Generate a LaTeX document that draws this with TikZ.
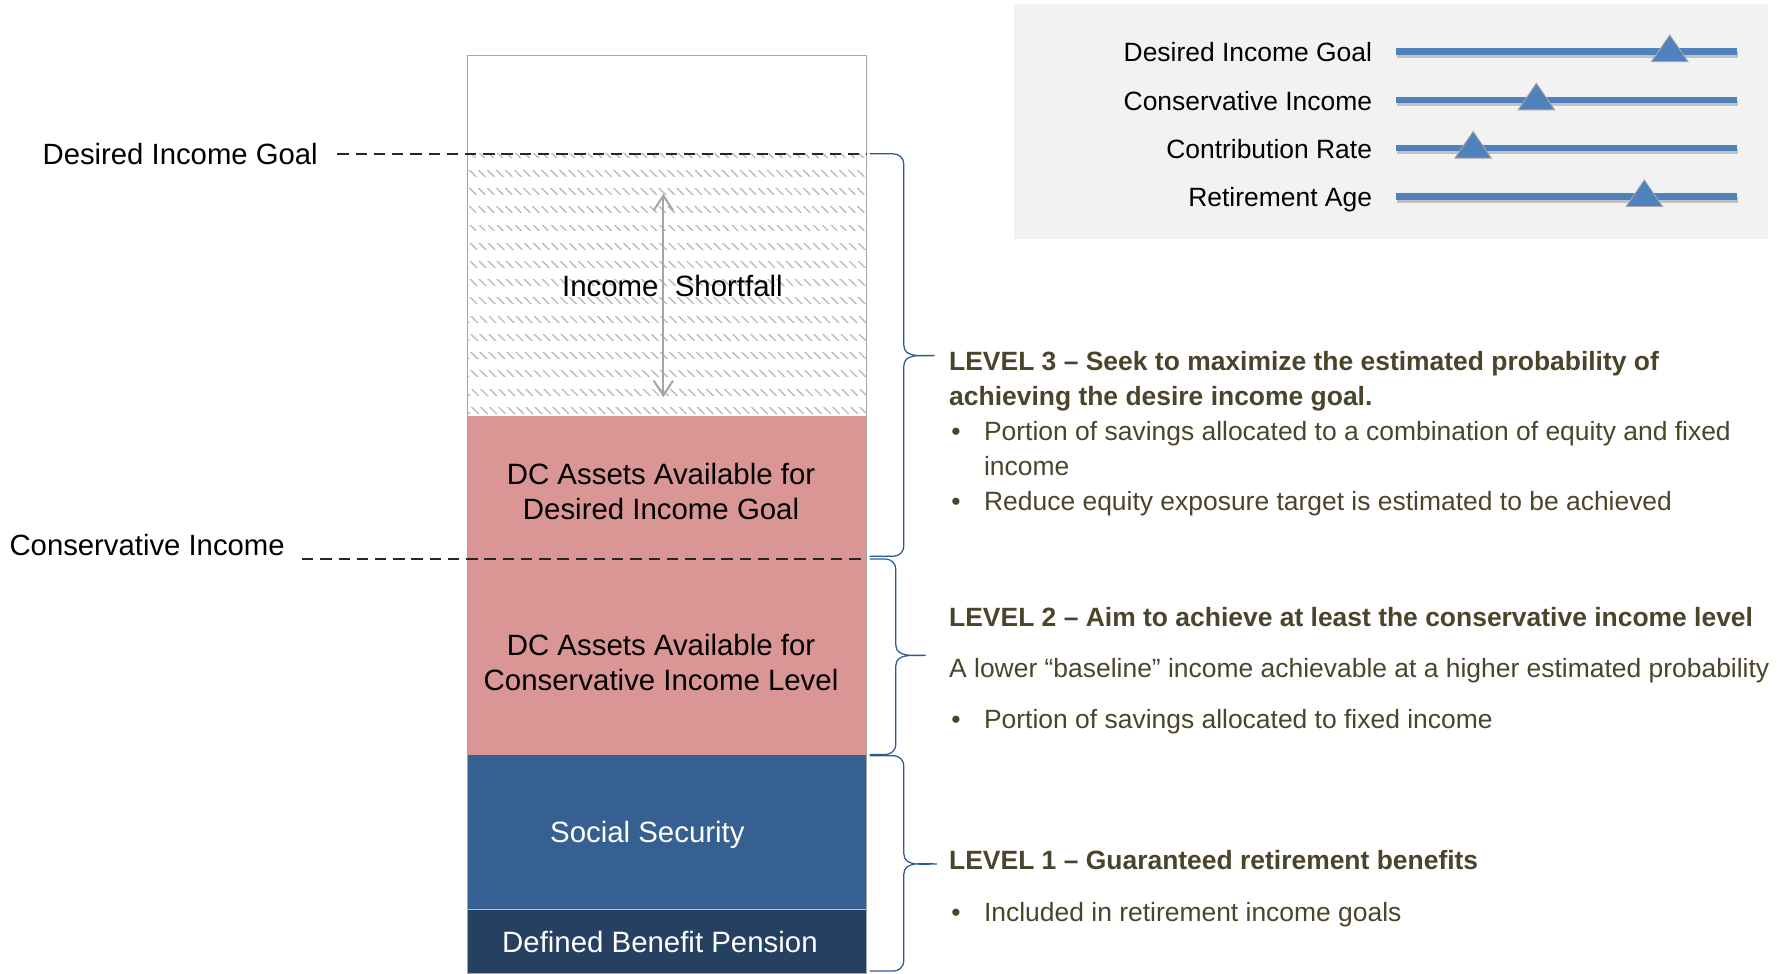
\documentclass[tikz,border=0pt]{standalone}
\usepackage{fontspec}
\setmainfont{Liberation Sans}
\usetikzlibrary{arrows.meta,patterns.meta}

\definecolor{dcpink}{HTML}{D99694}
\definecolor{ssblue}{HTML}{376092}
\definecolor{dbnavy}{HTML}{254061}
\definecolor{sliderblue}{HTML}{4F81BD}
\definecolor{panelgray}{HTML}{F2F2F2}
\definecolor{leveltext}{HTML}{4A452A}
\definecolor{bracecol}{HTML}{2E5A94}

\begin{document}
\begin{tikzpicture}[x=1pt, y=-1pt, inner sep=0pt,
    boxtext/.style={font=\fontsize{25.8}{30.5}\selectfont},
    sidelabel/.style={font=\fontsize{25.7}{30}\selectfont, anchor=base east},
    slidername/.style={font=\fontsize{23.2}{28}\selectfont, anchor=base east},
    levelnote/.style={font=\fontsize{23.2}{30.8}\selectfont, text=leveltext, anchor=base west},
    goalline/.style={line width=1.8pt, black!85, dash pattern=on 10pt off 6pt},
    levelbrace/.style={bracecol, line width=1.1pt},
    gaparrow/.style={line width=1.8pt, black!35, {Straight Barb[length=13pt,width=17pt]}-{Straight Barb[length=13pt,width=17pt]}}]
\useasboundingbox (0,0) rectangle (1567,854);

% income stack
\fill[pattern={Lines[angle=-45,distance=5.6pt,line width=1.2pt]}, pattern color=black!27] (410,135) rectangle (760,365);
\begin{scope}
  \clip (410,137) rectangle (760,365);
  \foreach \k in {0,...,14}
    \fill[white] (410,139+16*\k) rectangle (760,149+16*\k);
\end{scope}
\fill[dcpink] (410,365) rectangle (760,662);
\fill[ssblue] (410,662) rectangle (760,798);
\fill[dbnavy] (410,798) rectangle (760,854);
\draw[black!25, line width=1.5pt] (410,798) -- (760,798);
\node[draw=black!35, line width=1pt, anchor=north west, minimum width=350pt, minimum height=806pt] (column) at (410,48) {};

\node[boxtext, anchor=base] (shortfall) at (590,260) {Income\ \ Shortfall};
\coordinate (gaptop) at (582,170);
\coordinate (gapbot) at (582,348.5);
\draw[gaparrow] (gaptop) -- (gapbot);
\node[boxtext] (dcgoal) at (580,434.6) {\begin{tabular}{@{}c@{}}DC Assets Available for\\Desired Income Goal\end{tabular}};
\node[boxtext] (dccons) at (580,584.6) {\begin{tabular}{@{}c@{}}DC Assets Available for\\Conservative Income Level\end{tabular}};
\node[boxtext, white, anchor=base] (social) at (568,739.6) {Social Security};
\node[boxtext, white, anchor=base] (pension) at (579,836) {Defined Benefit Pension};

% income levels
\node[sidelabel] (goal) at (279,143.9) {Desired Income Goal};
\node[sidelabel] (cons) at (250,487.7) {Conservative Income};
\coordinate (consline) at ([xshift=15pt,yshift=-12pt]cons.east);
\draw[goalline] ([xshift=17pt]goal.east) -- (goal.east -| column.east);
\draw[goalline] (consline) -- (consline -| column.east);

% braces
\foreach \top/\bot/\mid/\sx/\tx in {135/488/312/793/820, 490.5/662/575/786/812, 663/852/758/793/822}
  \draw[levelbrace] (763,\top) -- (\sx-9,\top) to[out=0,in=90] (\sx,\top+9) -- (\sx,\mid-9)
    to[out=-90,in=180] (\tx,\mid) to[out=180,in=90] (\sx,\mid+9) -- (\sx,\bot-9)
    to[out=-90,in=0] (\sx-9,\bot) -- (763,\bot);

\node[levelnote] (level3) at (832.6,325) {\begin{tabular}[t]{@{}l@{\hspace{20.5pt}}l@{}}
  \multicolumn{2}{@{}l@{}}{\bfseries LEVEL 3 – Seek to maximize the estimated probability of}\\
  \multicolumn{2}{@{}l@{}}{\bfseries achieving the desire income goal.}\\
  \hspace{2pt}• & Portion of savings allocated to a combination of equity and fixed\\
    & income\\
  \hspace{2pt}• & Reduce equity exposure target is estimated to be achieved
  \end{tabular}};
\node[levelnote] (level2) at (832.6,549.6) {\begin{tabular}[t]{@{}l@{\hspace{20.5pt}}l@{}}
  \multicolumn{2}{@{}l@{}}{\bfseries LEVEL 2 – Aim to achieve at least the conservative income level}\\[14.2pt]
  \multicolumn{2}{@{}l@{}}{A lower “baseline” income achievable at a higher estimated probability}\\[14.2pt]
  \hspace{2pt}• & Portion of savings allocated to fixed income
  \end{tabular}};
\node[levelnote] (level1) at (832.6,763) {\begin{tabular}[t]{@{}l@{\hspace{20.5pt}}l@{}}
  \multicolumn{2}{@{}l@{}}{\bfseries LEVEL 1 – Guaranteed retirement benefits}\\[15pt]
  \hspace{2pt}• & Included in retirement income goals
  \end{tabular}};

% sliders
\fill[panelgray] (889.6,3.5) rectangle (1551,210);
\foreach \name/\y/\knob [count=\i] in {Desired Income Goal/45.3/1465, Conservative Income/87.7/1348, Contribution Rate/130/1292.5, Retirement Age/172.5/1442.7}{
  \node[slidername] (slider\i) at (1204,\y+9) {\name};
  \draw[black, opacity=.2, line width=5pt] (1226,\y+3) -- (1525,\y+3);
  \draw[sliderblue, line width=5.5pt] (1225,\y) -- (1524,\y);
  \filldraw[fill=sliderblue, draw=black!35, line width=.8pt] (\knob,\y-14.6) -- (\knob+16,\y+8.7) -- (\knob-16,\y+8.7) -- cycle;
}
\end{tikzpicture}
\end{document}
